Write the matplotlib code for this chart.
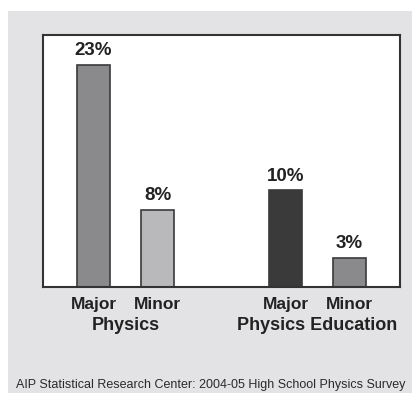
import matplotlib
matplotlib.use('Agg')
import matplotlib.pyplot as plt
from matplotlib.patches import Rectangle

# data
positions = [0, 1, 3, 4]
values = [23, 8, 10, 3]
bar_labels = ['23%', '8%', '10%', '3%']
tick_labels = ['Major', 'Minor', 'Major', 'Minor']
groups = ['Physics', 'Physics Education']
group_pos = [0.5, 3.5]
colors = ['#8a8a8c', '#b9b9bb', '#3a3a3a', '#8a8a8c']
source = 'AIP Statistical Research Center: 2004-05 High School Physics Survey'

plt.rcParams['font.family'] = ['Liberation Sans', 'DejaVu Sans']

fig = plt.figure(figsize=(4.12, 3.93), dpi=100)
fig.patch.set_facecolor('white')
fig.add_artist(Rectangle((8 / 412, 0), 1, (393 - 11) / 393,
                         transform=fig.transFigure, facecolor='#e3e3e5',
                         edgecolor='none', zorder=-5))

ax = fig.add_axes([43 / 412, 1 - 287 / 393, (400 - 43) / 412, (287 - 35) / 393])
ax.set_zorder(2)
ax.set_facecolor('white')
ax.bar(positions, values, width=0.516, color=colors, edgecolor='#3a3a3a', linewidth=1.2)
for x, v, lab in zip(positions, values, bar_labels):
    ax.annotate(lab, (x, v), xytext=(0, 4), textcoords='offset points',
                ha='center', va='bottom', fontsize=13.5, fontweight='bold', color='#222222')

ax.set_xlim(-0.79, 4.79)
ax.set_ylim(0, 26.1)
ax.set_yticks([])
ax.set_xticks(positions)
ax.set_xticklabels(tick_labels, fontsize=12.5, fontweight='bold', color='#222222')
ax.tick_params(axis='x', length=0, pad=7)
for s in ax.spines.values():
    s.set_color('#333333')
    s.set_linewidth(1.5)

for gx, g in zip(group_pos, groups):
    ax.annotate(g, (gx, 0), xycoords=('data', 'axes fraction'), xytext=(0, -21.5),
                textcoords='offset points', ha='center', va='top',
                fontsize=13, fontweight='bold', color='#222222')

fig.text(211 / 412, 1 - 385 / 393, source, ha='center', va='center',
         fontsize=9, color='#2a2a2a')

fig.savefig('out.png', dpi=100, facecolor=fig.get_facecolor())
